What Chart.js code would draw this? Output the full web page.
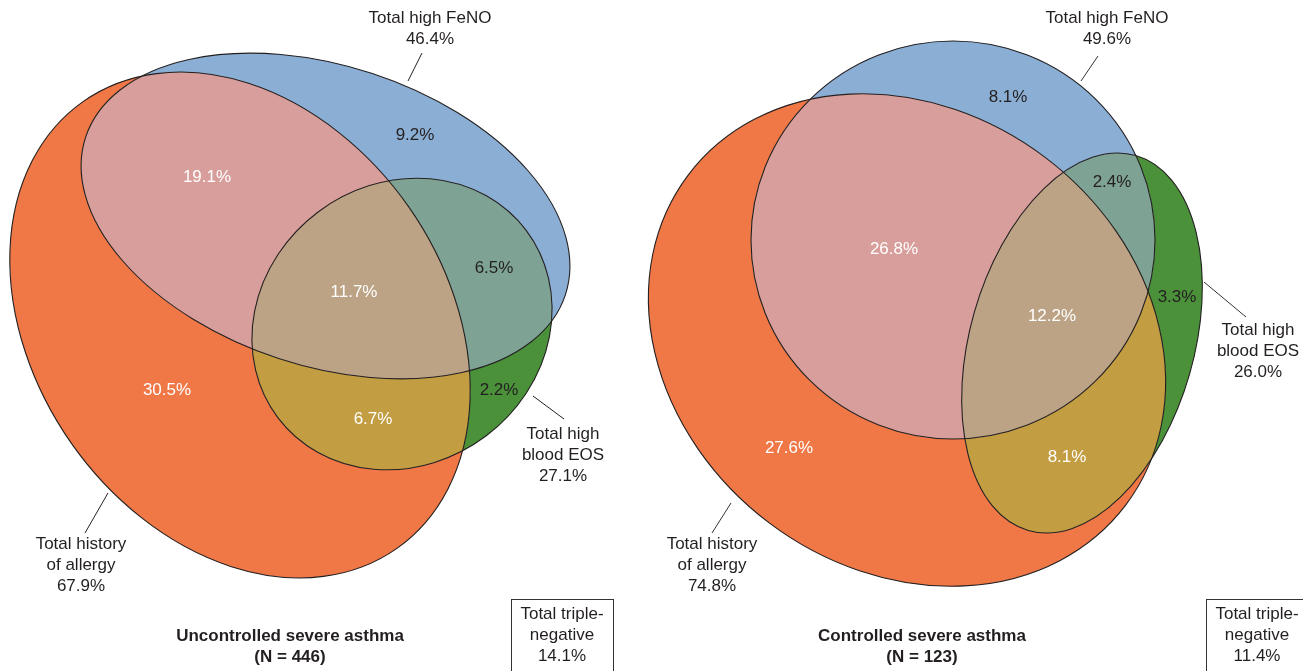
<!DOCTYPE html>
<html>
<head>
<meta charset="utf-8">
<script src="https://cdn.jsdelivr.net/npm/chart.js@4/dist/chart.umd.min.js"></script>
<style>
  html, body { margin: 0; padding: 0; background: #fff; }
  #wrap { width: 1303px; height: 671px; position: relative; }
</style>
</head>
<body>
<div id="wrap"><canvas id="venn"></canvas></div>
<script>
'use strict';

// ---- data ----
const groupTitles = ['Uncontrolled severe asthma', 'Controlled severe asthma'];
const groupN = [446, 123];
const setNames = [['Total history', 'of allergy'], ['Total high FeNO'], ['Total high', 'blood EOS']];
const uncontrolledTotals = [67.9, 46.4, 27.1];
const controlledTotals = [74.8, 49.6, 26.0];
// regions: allergy only, FeNO only, EOS only, allergy+FeNO, allergy+EOS, FeNO+EOS, all three
const regionMasks = [1, 2, 4, 3, 5, 6, 7];
const uncontrolledRegions = [30.5, 9.2, 2.2, 19.1, 6.7, 6.5, 11.7];
const controlledRegions = [27.6, 8.1, 3.3, 26.8, 8.1, 2.4, 12.2];
const tripleNegative = [14.1, 11.4];

// ---- layout (axis units = px of the figure) ----
const ellipses = [
    [ // uncontrolled: allergy, FeNO, EOS
        { cx: 240, cy: 325, a: 273, b: 206, rot: 55 },
        { cx: 325.5, cy: 216, a: 252.5, b: 150, rot: 18.2 },
        { cx: 402, cy: 324, a: 155.5, b: 140, rot: -37 }
    ],
    [ // controlled
        { cx: 907, cy: 340, a: 274, b: 229, rot: 37 },
        { cx: 953, cy: 240, a: 202, b: 199, rot: 0 },
        { cx: 1082, cy: 343, a: 195, b: 112, rot: -74 }
    ]
];
const regionLabelPos = [
    [[167, 390], [415, 135], [499, 390], [207, 177], [373, 419], [494, 268], [354, 292]],
    [[789, 448], [1008, 97], [1177, 297], [894, 249], [1067, 457], [1112, 182], [1052, 316]]
];
// set label anchors (first line centre) and leader lines
const setLabelPos = [
    [[81, 544], [430, 18], [563, 434]],
    [[712, 544], [1107, 18], [1258, 330]]
];
const leaders = [
    [[[108, 493], [85, 533]], [[422, 53], [408, 81]], [[533, 396], [564, 419]]],
    [[[731, 503], [712, 533]], [[1098, 56], [1081, 81]], [[1204, 282], [1246, 317]]]
];
const titleX = [290, 922];
const boxes = [[511, 599, 102], [1206, 599, 110]];

const regionColors = {
    1: '#EF7846', 2: '#8BAFD4', 4: '#4A913A',
    3: '#D89E9B', 5: '#C39D42', 6: '#7EA394', 7: '#BDA385'
};
const darkText = { 2: true, 4: true, 6: true };
const FONT = '"Liberation Sans", Arial, sans-serif';
const INK = '#231F20';

const allRegions = [uncontrolledRegions, controlledRegions];
const allTotals = [uncontrolledTotals, controlledTotals];

function ellipsePath(ctx, sx, sy, e) {
    const px = sx.getPixelForValue(e.cx);
    const py = sy.getPixelForValue(e.cy);
    const kx = Math.abs(sx.getPixelForValue(1) - sx.getPixelForValue(0));
    const ky = Math.abs(sy.getPixelForValue(1) - sy.getPixelForValue(0));
    ctx.ellipse(px, py, e.a * kx, e.b * ky, e.rot * Math.PI / 180, 0, Math.PI * 2);
}

const vennPlugin = {
    id: 'venn',
    beforeDatasetsDraw(chart) {
        const ctx = chart.ctx;
        const sx = chart.scales.x, sy = chart.scales.y;
        const W = chart.width, H = chart.height;
        ellipses.forEach(function (group) {
            regionMasks.forEach(function (mask) {
                ctx.save();
                group.forEach(function (e, i) {
                    ctx.beginPath();
                    if (mask & (1 << i)) {
                        ellipsePath(ctx, sx, sy, e);
                        ctx.clip();
                    } else {
                        ctx.rect(-10, -10, W + 20, H + 20);
                        ellipsePath(ctx, sx, sy, e);
                        ctx.clip('evenodd');
                    }
                });
                ctx.fillStyle = regionColors[mask];
                ctx.fillRect(0, 0, W, H);
                ctx.restore();
            });
            ctx.save();
            ctx.strokeStyle = INK;
            ctx.lineWidth = 1.1;
            group.forEach(function (e) {
                ctx.beginPath();
                ellipsePath(ctx, sx, sy, e);
                ctx.stroke();
            });
            ctx.restore();
        });
    },
    afterDatasetsDraw(chart) {
        const ctx = chart.ctx;
        const sx = chart.scales.x, sy = chart.scales.y;
        ctx.save();
        ctx.textAlign = 'center';
        ctx.textBaseline = 'middle';

        // region percentages, placed at the scatter points
        chart.data.datasets.forEach(function (ds, g) {
            const meta = chart.getDatasetMeta(g);
            meta.data.forEach(function (pt, i) {
                const mask = regionMasks[i];
                ctx.font = '17px ' + FONT;
                ctx.fillStyle = darkText[mask] ? INK : '#ffffff';
                ctx.fillText(allRegions[g][i].toFixed(1) + '%', pt.x, pt.y);
            });
        });

        ctx.fillStyle = INK;
        ctx.strokeStyle = INK;
        ctx.lineWidth = 1;
        for (let g = 0; g < 2; g++) {
            // set totals
            setNames.forEach(function (lines, s) {
                const p = setLabelPos[g][s];
                const txt = lines.concat([allTotals[g][s].toFixed(1) + '%']);
                ctx.font = '17px ' + FONT;
                txt.forEach(function (t, k) {
                    ctx.fillText(t, sx.getPixelForValue(p[0]), sy.getPixelForValue(p[1] + k * 21));
                });
                const l = leaders[g][s];
                ctx.beginPath();
                ctx.moveTo(sx.getPixelForValue(l[0][0]), sy.getPixelForValue(l[0][1]));
                ctx.lineTo(sx.getPixelForValue(l[1][0]), sy.getPixelForValue(l[1][1]));
                ctx.stroke();
            });
            // title
            ctx.font = 'bold 17px ' + FONT;
            ctx.fillText(groupTitles[g], sx.getPixelForValue(titleX[g]), sy.getPixelForValue(636));
            ctx.fillText('(N = ' + groupN[g] + ')', sx.getPixelForValue(titleX[g]), sy.getPixelForValue(657));
            // triple-negative box
            const b = boxes[g];
            const bx = sx.getPixelForValue(b[0]), by = sy.getPixelForValue(b[1]);
            ctx.strokeStyle = '#333';
            ctx.strokeRect(bx + 0.5, by + 0.5, b[2], 100);
            ctx.font = '17px ' + FONT;
            const cxB = bx + 51;
            ['Total triple-', 'negative', tripleNegative[g].toFixed(1) + '%'].forEach(function (t, k) {
                ctx.fillText(t, cxB, by + 15 + k * 21);
            });
        }
        ctx.restore();
    }
};

new Chart(document.getElementById('venn'), {
    type: 'scatter',
    data: {
        datasets: regionLabelPos.map(function (pts, g) {
            return {
                label: groupTitles[g],
                data: pts.map(function (p) { return { x: p[0], y: p[1] }; }),
                pointRadius: 0,
                pointHoverRadius: 0
            };
        })
    },
    options: {
        responsive: true,
        maintainAspectRatio: false,
        animation: false,
        events: [],
        layout: { padding: 0 },
        plugins: { legend: { display: false }, tooltip: { enabled: false } },
        scales: {
            x: { type: 'linear', min: 0, max: 1303, display: false },
            y: { type: 'linear', min: 0, max: 671, reverse: true, display: false }
        }
    },
    plugins: [vennPlugin]
});
</script>
</body>
</html>
